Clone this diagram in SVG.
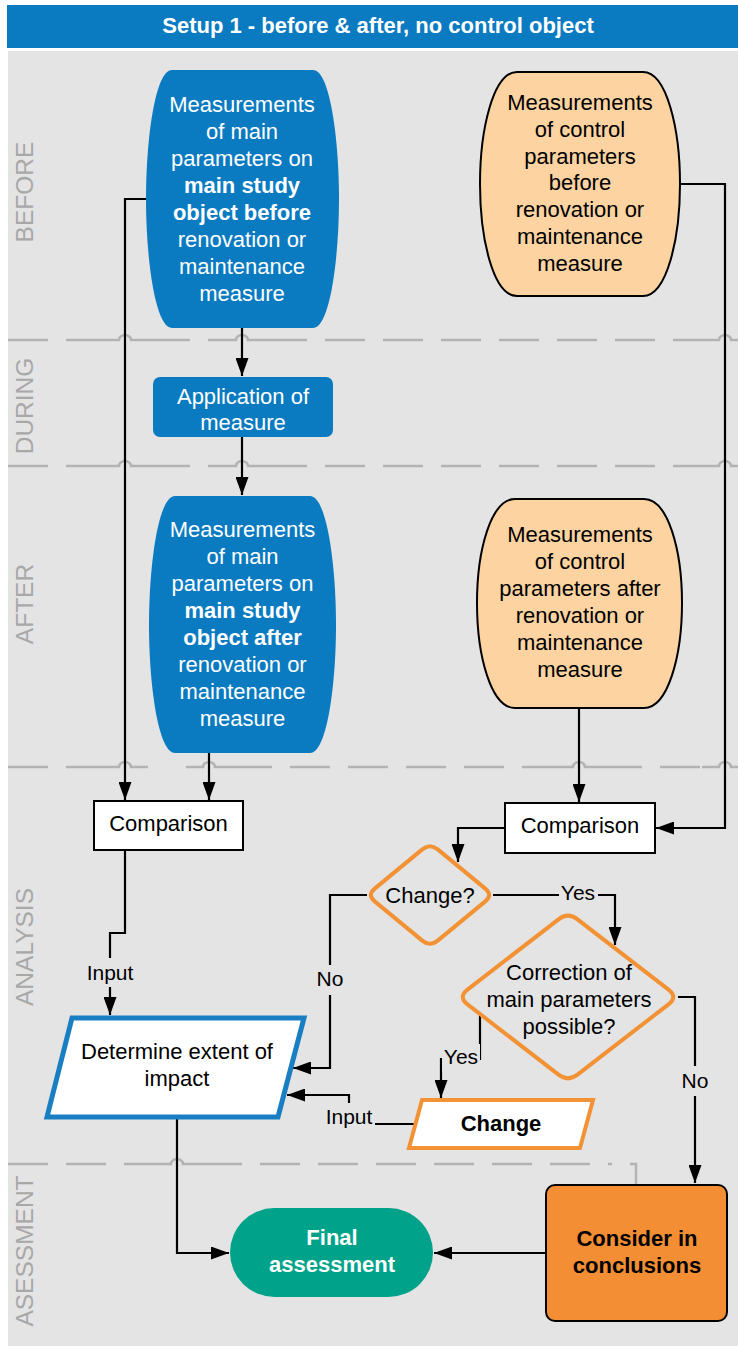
<svg xmlns="http://www.w3.org/2000/svg" width="738" height="1346" viewBox="0 0 738 1346">
<defs>
<marker id="arr" markerUnits="userSpaceOnUse" markerWidth="18" markerHeight="13" refX="18" refY="6.5" orient="auto">
<path d="M0,0 L18,6.5 L0,13 Z" fill="#000"/>
</marker>
<style>
text{font-family:"Liberation Sans",Arial,sans-serif;font-size:22px;text-anchor:middle}
.w{fill:#fff}
.k{fill:#000}
.b{font-weight:bold}
.lane{fill:#a8a8a8;font-size:24.5px}
.dash{fill:none;stroke:#b3b3b3;stroke-width:2.5;stroke-dasharray:40 18}
.hop{fill:none;stroke:#b3b3b3;stroke-width:2.5}
.c{fill:none;stroke:#000;stroke-width:2.2}
.a{marker-end:url(#arr)}
.lbl{font-size:21px;fill:#000}
.lbg{fill:#e4e4e4}
.blue{fill:#0a7bc1}
.peach{fill:#fcd3a1;stroke:#000;stroke-width:2}
.box{fill:#fff;stroke:#000;stroke-width:2}
.dia{fill:#e4e4e4;stroke:#f39234;stroke-width:4;stroke-linejoin:round}
</style>
</defs>

<g id="background">
<rect x="8" y="51" width="730" height="1295" fill="#e4e4e4"/>
<rect x="7" y="5" width="731" height="43" fill="#0a7bc1"/>
<text x="378" y="33" class="w b">Setup 1 - before &amp; after, no control object</text>
</g>

<g id="lanes">
<text class="lane" transform="translate(33,192) rotate(-90)">BEFORE</text>
<text class="lane" transform="translate(33,406) rotate(-90)">DURING</text>
<text class="lane" transform="translate(33,604) rotate(-90)">AFTER</text>
<text class="lane" transform="translate(33,947) rotate(-90)">ANALYSIS</text>
<text class="lane" transform="translate(33,1251) rotate(-90)">ASESSMENT</text>
<path class="dash" d="M8,340 H100 M150,340 H217 M267,340 H700"/>
<path class="hop" d="M100,340 H119 a6,5 0 0 1 12,0 H150 M217,340 H236 a6,5 0 0 1 12,0 H267 M700,340 H719 a6,5 0 0 1 12,0 H738"/>
<path class="dash" d="M8,466 H100 M150,466 H217 M267,466 H700"/>
<path class="hop" d="M100,466 H119 a6,5 0 0 1 12,0 H150 M217,466 H236 a6,5 0 0 1 12,0 H267 M700,466 H719 a6,5 0 0 1 12,0 H738"/>
<path class="dash" d="M8,767 H102 M232,767 H556 M602,767 H702"/>
<path class="hop" d="M102,767 H119 a6,5 0 0 1 12,0 H148 M186,767 H203 a6,5 0 0 1 12,0 H232 M556,767 H573 a6,5 0 0 1 12,0 H602 M702,767 H719 a6,5 0 0 1 12,0 H738"/>
<path class="dash" d="M8,1164 H152 M202,1164 H612"/>
<path class="hop" d="M152,1164 H171 a6,5 0 0 1 12,0 H202 M630,1164 H636 V1185"/>
</g>

<g id="connectors">
<path class="c a" d="M146,199 H125 V800"/>
<path class="c a" d="M242,328 V376"/>
<path class="c a" d="M242,437 V495"/>
<path class="c a" d="M209,753 V800"/>
<path class="c a" d="M680,184 H725 V828 H656"/>
<path class="c a" d="M579,708 V802"/>
<path class="c a" d="M505,828 H458 V862"/>
<path class="c a" d="M493,895 H615 V945"/>
<path class="c a" d="M367,895 H330 V1068 H293"/>
<path class="c a" d="M125,851 V933 H110 V1015"/>
<path class="c a" d="M480,1014 V1059 H441 V1098"/>
<path class="c a" d="M414,1124 H349 V1095 H287"/>
<path class="c a" d="M678,997 H695 V1183"/>
<path class="c a" d="M177,1119 V1253 H229"/>
<path class="c a" d="M545,1253 H434"/>
<rect class="lbg" x="559" y="880" width="39" height="28"/>
<text class="lbl" x="578" y="900">Yes</text>
<rect class="lbg" x="316" y="965" width="28" height="30"/>
<text class="lbl" x="330" y="986">No</text>
<rect class="lbg" x="85" y="958" width="50" height="29"/>
<text class="lbl" x="110" y="980">Input</text>
<rect class="lbg" x="442" y="1044" width="38" height="28"/>
<text class="lbl" x="461" y="1064">Yes</text>
<rect class="lbg" x="323" y="1103" width="52" height="28"/>
<text class="lbl" x="349" y="1124">Input</text>
<rect class="lbg" x="681" y="1066" width="28" height="30"/>
<text class="lbl" x="695" y="1088">No</text>
</g>

<g id="main-before">
<path class="blue" d="M172,70 H313 C330,70 339,140 339,199 C339,258 330,328 313,328 H172 C155,328 146,258 146,199 C146,140 155,70 172,70 Z"/>
<text class="w" x="242" y="112">Measurements</text>
<text class="w" x="242" y="139">of main</text>
<text class="w" x="242" y="166">parameters on</text>
<text class="w b" x="242" y="193">main study</text>
<text class="w b" x="242" y="220">object before</text>
<text class="w" x="242" y="247">renovation or</text>
<text class="w" x="242" y="274">maintenance</text>
<text class="w" x="242" y="301">measure</text>
</g>

<g id="control-before">
<path class="peach" d="M517,72 H643 C667,72 680,130 680,184 C680,238 667,296 643,296 H517 C493,296 480,238 480,184 C480,130 493,72 517,72 Z"/>
<text class="k" x="580" y="110">Measurements</text>
<text class="k" x="580" y="137">of control</text>
<text class="k" x="580" y="164">parameters</text>
<text class="k" x="580" y="190">before</text>
<text class="k" x="580" y="217">renovation or</text>
<text class="k" x="580" y="244">maintenance</text>
<text class="k" x="580" y="271">measure</text>
</g>

<g id="application">
<rect class="blue" x="153" y="377" width="180" height="60" rx="7"/>
<text class="w" x="243" y="404">Application of</text>
<text class="w" x="243" y="430">measure</text>
</g>

<g id="main-after">
<path class="blue" d="M175,496 H310 C327,496 336,566 336,625 C336,684 327,753 310,753 H175 C158,753 149,684 149,625 C149,566 158,496 175,496 Z"/>
<text class="w" x="242.5" y="537">Measurements</text>
<text class="w" x="242.5" y="564">of main</text>
<text class="w" x="242.5" y="591">parameters on</text>
<text class="w b" x="242.5" y="618">main study</text>
<text class="w b" x="242.5" y="645">object after</text>
<text class="w" x="242.5" y="672">renovation or</text>
<text class="w" x="242.5" y="699">maintenance</text>
<text class="w" x="242.5" y="726">measure</text>
</g>

<g id="control-after">
<path class="peach" d="M515,499 H644 C668,499 682,550 682,603 C682,656 668,708 644,708 H515 C491,708 477,656 477,603 C477,550 491,499 515,499 Z"/>
<text class="k" x="580" y="542">Measurements</text>
<text class="k" x="580" y="569">of control</text>
<text class="k" x="580" y="596">parameters after</text>
<text class="k" x="580" y="623">renovation or</text>
<text class="k" x="580" y="650">maintenance</text>
<text class="k" x="580" y="677">measure</text>
</g>

<g id="comparison-main">
<rect class="box" x="94" y="801" width="149" height="49"/>
<text class="k" x="168.5" y="831">Comparison</text>
</g>

<g id="comparison-control">
<rect class="box" x="505" y="803" width="150" height="50"/>
<text class="k" x="580" y="833">Comparison</text>
</g>

<g id="change-decision">
<path class="dia" d="M437.7,849.4 L485.3,888.6 Q493,895 485.3,901.4 L437.7,940.6 Q430,947 422.3,940.6 L374.7,901.4 Q367,895 374.7,888.6 L422.3,849.4 Q430,843 437.7,849.4 Z"/>
<text class="k" x="430" y="903">Change?</text>
</g>

<g id="correction-decision">
<path class="dia" d="M577.5,919.3 L668.5,989.7 Q678,997 668.5,1004.3 L577.5,1074.7 Q568,1082 558.5,1074.7 L467.5,1004.3 Q458,997 467.5,989.7 L558.5,919.3 Q568,912 577.5,919.3 Z"/>
<text class="k" x="569" y="980">Correction of</text>
<text class="k" x="569" y="1007">main parameters</text>
<text class="k" x="569" y="1034">possible?</text>
</g>

<g id="determine">
<polygon points="72,1018 304,1018 278,1117 47,1117" fill="#fff" stroke="#1a7fc2" stroke-width="5"/>
<text class="k" x="177" y="1059">Determine extent of</text>
<text class="k" x="177" y="1086">impact</text>
</g>

<g id="change">
<polygon points="422,1100 593,1100 580,1148 409,1148" fill="#fff" stroke="#f39234" stroke-width="4"/>
<text class="k b" x="501" y="1131">Change</text>
</g>

<g id="final">
<rect x="230" y="1208" width="203" height="89" rx="44.5" fill="#00a389"/>
<text class="w b" x="332" y="1245">Final</text>
<text class="w b" x="332" y="1272">assessment</text>
</g>

<g id="consider">
<rect x="546" y="1185" width="181" height="136" rx="9" fill="#f48e34" stroke="#000" stroke-width="2"/>
<text class="k b" x="637" y="1246">Consider in</text>
<text class="k b" x="637" y="1273">conclusions</text>
</g>
</svg>
